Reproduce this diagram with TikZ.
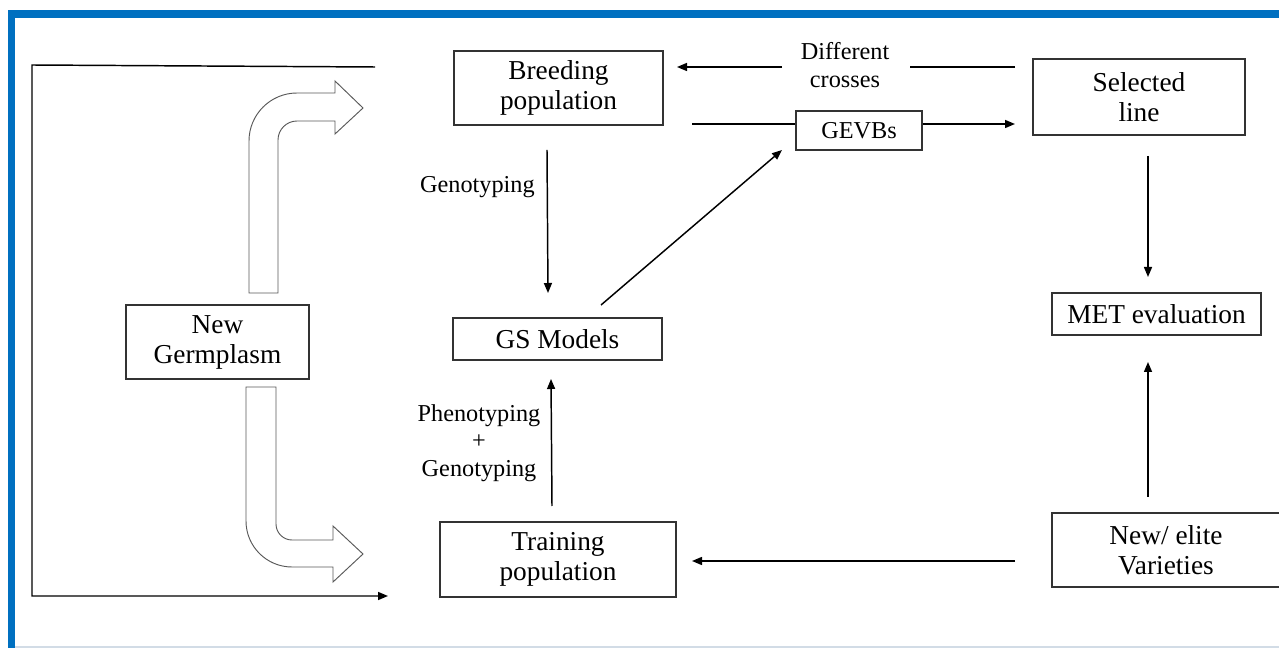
\documentclass[tikz,border=0pt]{standalone}
\usepackage{fontspec}
\setmainfont{Liberation Serif}
\usetikzlibrary{arrows.meta}
\definecolor{frameblue}{HTML}{0070C0}
\definecolor{bottomgray}{HTML}{D2DCE6}
\begin{document}
\begin{tikzpicture}[x=0.75pt,y=-0.75pt,
  box/.style={draw=black!80, line width=0.8pt, inner sep=0pt, align=center, font=\fontsize{20.5}{22.5}\selectfont},
  lbl/.style={inner sep=0pt, align=center, font=\fontsize{18.2}{20.5}\selectfont},
  conn/.style={line width=1.1pt, -{Triangle[length=7.5pt,width=6pt]}},
  plain/.style={line width=1.1pt},
  bent/.style={draw=black!65, line width=0.7pt, fill=white}]
\clip (0,0) rectangle (1279,648);
\fill[white] (0,0) rectangle (1279,648);
\fill[frameblue] (8,10) rectangle (1279,18);
\fill[frameblue] (8,10) rectangle (15,648);
\draw[bottomgray, line width=1.5pt] (15,646.5) -- (1279,646.5);

% nodes
\node[box, minimum width=156.75pt, minimum height=55.5pt] (breed) at (558.5,88) {Breeding\\population};
\node[box, minimum width=159pt, minimum height=57pt] (sel) at (1139,97) {Selected\\line};
\node[box, minimum width=156.75pt, minimum height=31.5pt] (met) at (1156.5,314) {MET evaluation};
\node[box, minimum width=156.75pt, minimum height=31.5pt] (gs) at (557.5,339) {GS Models};
\node[box, minimum width=177pt, minimum height=56.25pt] (train) at (558,559.5) {Training\\population};
\node[box, minimum width=171pt, minimum height=55.5pt] (newel) at (1166,550) {New/ elite\\Varieties};
\node[box, minimum width=137.25pt, minimum height=55.5pt] (germ) at (217.5,342) {New\\Germplasm};
\node[box, lbl, draw=black!80, minimum width=94.5pt, minimum height=29.25pt] (gev) at (859,130.5) {GEVBs};

% labels
\node[lbl] (dc) at (845,65) {Different\\crosses};
\node[lbl, anchor=base east] (geno) at (535,193) {Genotyping};
\node[lbl] (pheno) at (479,443) {Phenotyping\\+\\Genotyping};

% coordinates
\coordinate (dcS) at (1015,67);
\coordinate (dcA) at (910,67);
\coordinate (dcB) at (782,67);
\coordinate (dcE) at (677,67);
\coordinate (g1) at (692,124);
\coordinate (g2) at (1015,124);
\coordinate (ga) at (547,150);
\coordinate (gb) at (548,293);
\coordinate (pa) at (552,506);
\coordinate (pb) at (551,379);
\coordinate (da) at (601,305);
\coordinate (db) at (782,150);
\coordinate (sa) at (1148,156);
\coordinate (sb) at (1148,277);
\coordinate (na) at (1148,497);
\coordinate (nb) at (1148,362);
\coordinate (ta) at (1015,561);
\coordinate (tb) at (692,561);
\coordinate (b1) at (375,67);
\coordinate (b2) at (32,65);
\coordinate (b3) at (32,596);
\coordinate (b4) at (388,596);

% connectors
\draw[plain] (dcS) -- (dcA);
\draw[conn] (dcB) -- (dcE);
\draw[plain] (g1) -- (gev.west |- g1);
\draw[conn] (gev.east |- g2) -- (g2);
\draw[conn] (ga) -- (gb);
\draw[conn] (pa) -- (pb);
\draw[conn] (da) -- (db);
\draw[conn] (sa) -- (sb);
\draw[conn] (na) -- (nb);
\draw[conn] (ta) -- (tb);
\draw[conn] (b1) -- (b2) -- (b3) -- (b4);

% bent arrows
\draw[bent] (249,293) -- (249,141) .. controls (249,114.5) and (270.5,93) .. (297,93)
  -- (335,93) -- (335,81) -- (363,108) -- (335,134) -- (335,121) -- (297,121)
  .. controls (286.5,121) and (278,129.5) .. (278,140) -- (278,293) -- cycle;
\draw[bent] (246,387) -- (246,521) .. controls (246,546.4) and (266.6,567) .. (292,567)
  -- (333,567) -- (333,582) -- (363,554) -- (333,526) -- (333,540) -- (292,540)
  .. controls (283.2,540) and (276,532.8) .. (276,524) -- (276,387) -- cycle;
\end{tikzpicture}
\end{document}
